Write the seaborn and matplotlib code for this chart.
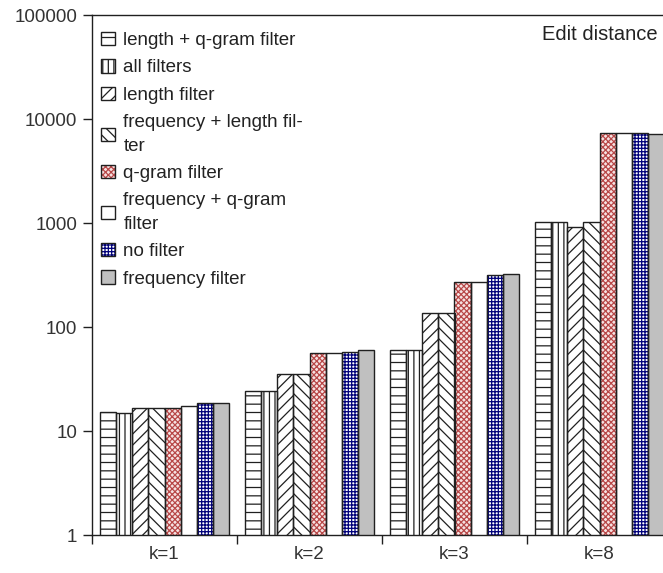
import numpy as np
import pandas as pd
import matplotlib
matplotlib.use('Agg')
import matplotlib.pyplot as plt
from matplotlib.patches import Rectangle, Patch
from matplotlib.legend_handler import HandlerTuple
from matplotlib.ticker import FuncFormatter, NullLocator
import seaborn as sns

# data (run time, log scale)
categories = ['k=1', 'k=2', 'k=3', 'k=8']
filters = ['length + q-gram filter', 'all filters', 'length filter',
           'frequency + length fil-\nter', 'q-gram filter',
           'frequency + q-gram\nfilter', 'no filter', 'frequency filter']

len_qgram = [15.2, 24.4, 60, 1016]
all_filters = [15.0, 24.4, 60, 1016]
len_only = [16.6, 35.3, 137, 922]
freq_len = [16.6, 35.3, 137, 1016]
qgram = [16.6, 56, 271, 7380]
freq_qgram = [17.3, 56, 271, 7380]
no_filter = [18.7, 57.5, 316, 7380]
freq_only = [18.7, 60, 326, 7220]

series = [len_qgram, all_filters, len_only, freq_len,
          qgram, freq_qgram, no_filter, freq_only]

hatches = ['--', '|||', '///', '\\\\\\', 'xxxxxx', '', '+++++', '']
faces = ['white', 'white', 'white', 'white', '#f6e2e2', 'white', 'white', '#c0c0c0']
hatch_cols = ['#202020', '#202020', '#202020', '#202020', '#b84848',
              '#202020', '#00007a', '#202020']
edge = '#202020'

rows = []
for name, vals in zip(filters, series):
    for k, v in zip(categories, vals):
        rows.append({'k': k, 'filter': name, 'time': v})
df = pd.DataFrame(rows)

sns.set_style('ticks')
plt.rcParams['font.family'] = ['Liberation Sans', 'DejaVu Sans']
plt.rcParams['font.size'] = 13.5
plt.rcParams['hatch.linewidth'] = 0.9

fig = plt.figure(figsize=(6.63, 5.73), dpi=100)
ax = fig.add_axes([92 / 663, (573 - 535) / 573, (672 - 92) / 663, (535 - 15) / 573])

sns.barplot(data=df, x='k', y='time', hue='filter', order=categories,
            hue_order=filters, width=0.885, gap=0, legend=False,
            log_scale=True, ax=ax)

handles = []
for i, cont in enumerate(ax.containers):
    for p in cont.patches:
        p.set_facecolor(faces[i])
        p.set_hatch(hatches[i])
        p.set_edgecolor(hatch_cols[i])
        p.set_linewidth(0)
        ax.add_patch(Rectangle(p.get_xy(), p.get_width(), p.get_height(),
                               fill=False, ec=edge, lw=1.0, zorder=3))
    handles.append((Patch(facecolor=faces[i], hatch=hatches[i],
                          edgecolor=hatch_cols[i], lw=0),
                    Patch(fill=False, ec=edge, lw=1.0)))

leg = ax.legend(handles, filters, handler_map={tuple: HandlerTuple(ndivide=1, pad=0)},
                loc='upper left', bbox_to_anchor=(0.0155, 0.968), frameon=False,
                borderpad=0, borderaxespad=0, handlelength=0.75, handleheight=0.72,
                handletextpad=0.45, labelspacing=0.55)
for t in leg.get_texts():
    t.set_linespacing(1.48)
    t.set_color('#222222')

ax.set_yscale('log')
ax.set_ylim(1, 1e5)
ax.yaxis.set_minor_locator(NullLocator())
ax.yaxis.set_major_formatter(FuncFormatter(lambda v, pos: f'{int(round(v))}'))

ax.set_xlim(-0.5, 3.5)
ax.set_xticks([-0.5, 0.5, 1.5, 2.5, 3.5])
ax.set_xticklabels([])
ax.set_xticks(range(len(categories)), minor=True)
ax.set_xticklabels(categories, minor=True)
ax.tick_params(axis='x', which='minor', length=0, pad=8, labelcolor='#333333')
ax.tick_params(axis='x', which='major', length=6.5, width=1, color=edge)
ax.tick_params(axis='y', length=6.5, width=1, pad=4, color=edge, labelcolor='#333333')

for s in ['left', 'bottom', 'top']:
    ax.spines[s].set_visible(True)
    ax.spines[s].set_color(edge)
    ax.spines[s].set_linewidth(1)
ax.spines['right'].set_visible(False)

ax.set_xlabel('')
ax.set_ylabel('')

fig.text(658 / 663, 1 - 35 / 573, 'Edit distance', ha='right', va='center',
         color='#222222', fontsize=14.5)

fig.savefig('out.png', dpi=100)
